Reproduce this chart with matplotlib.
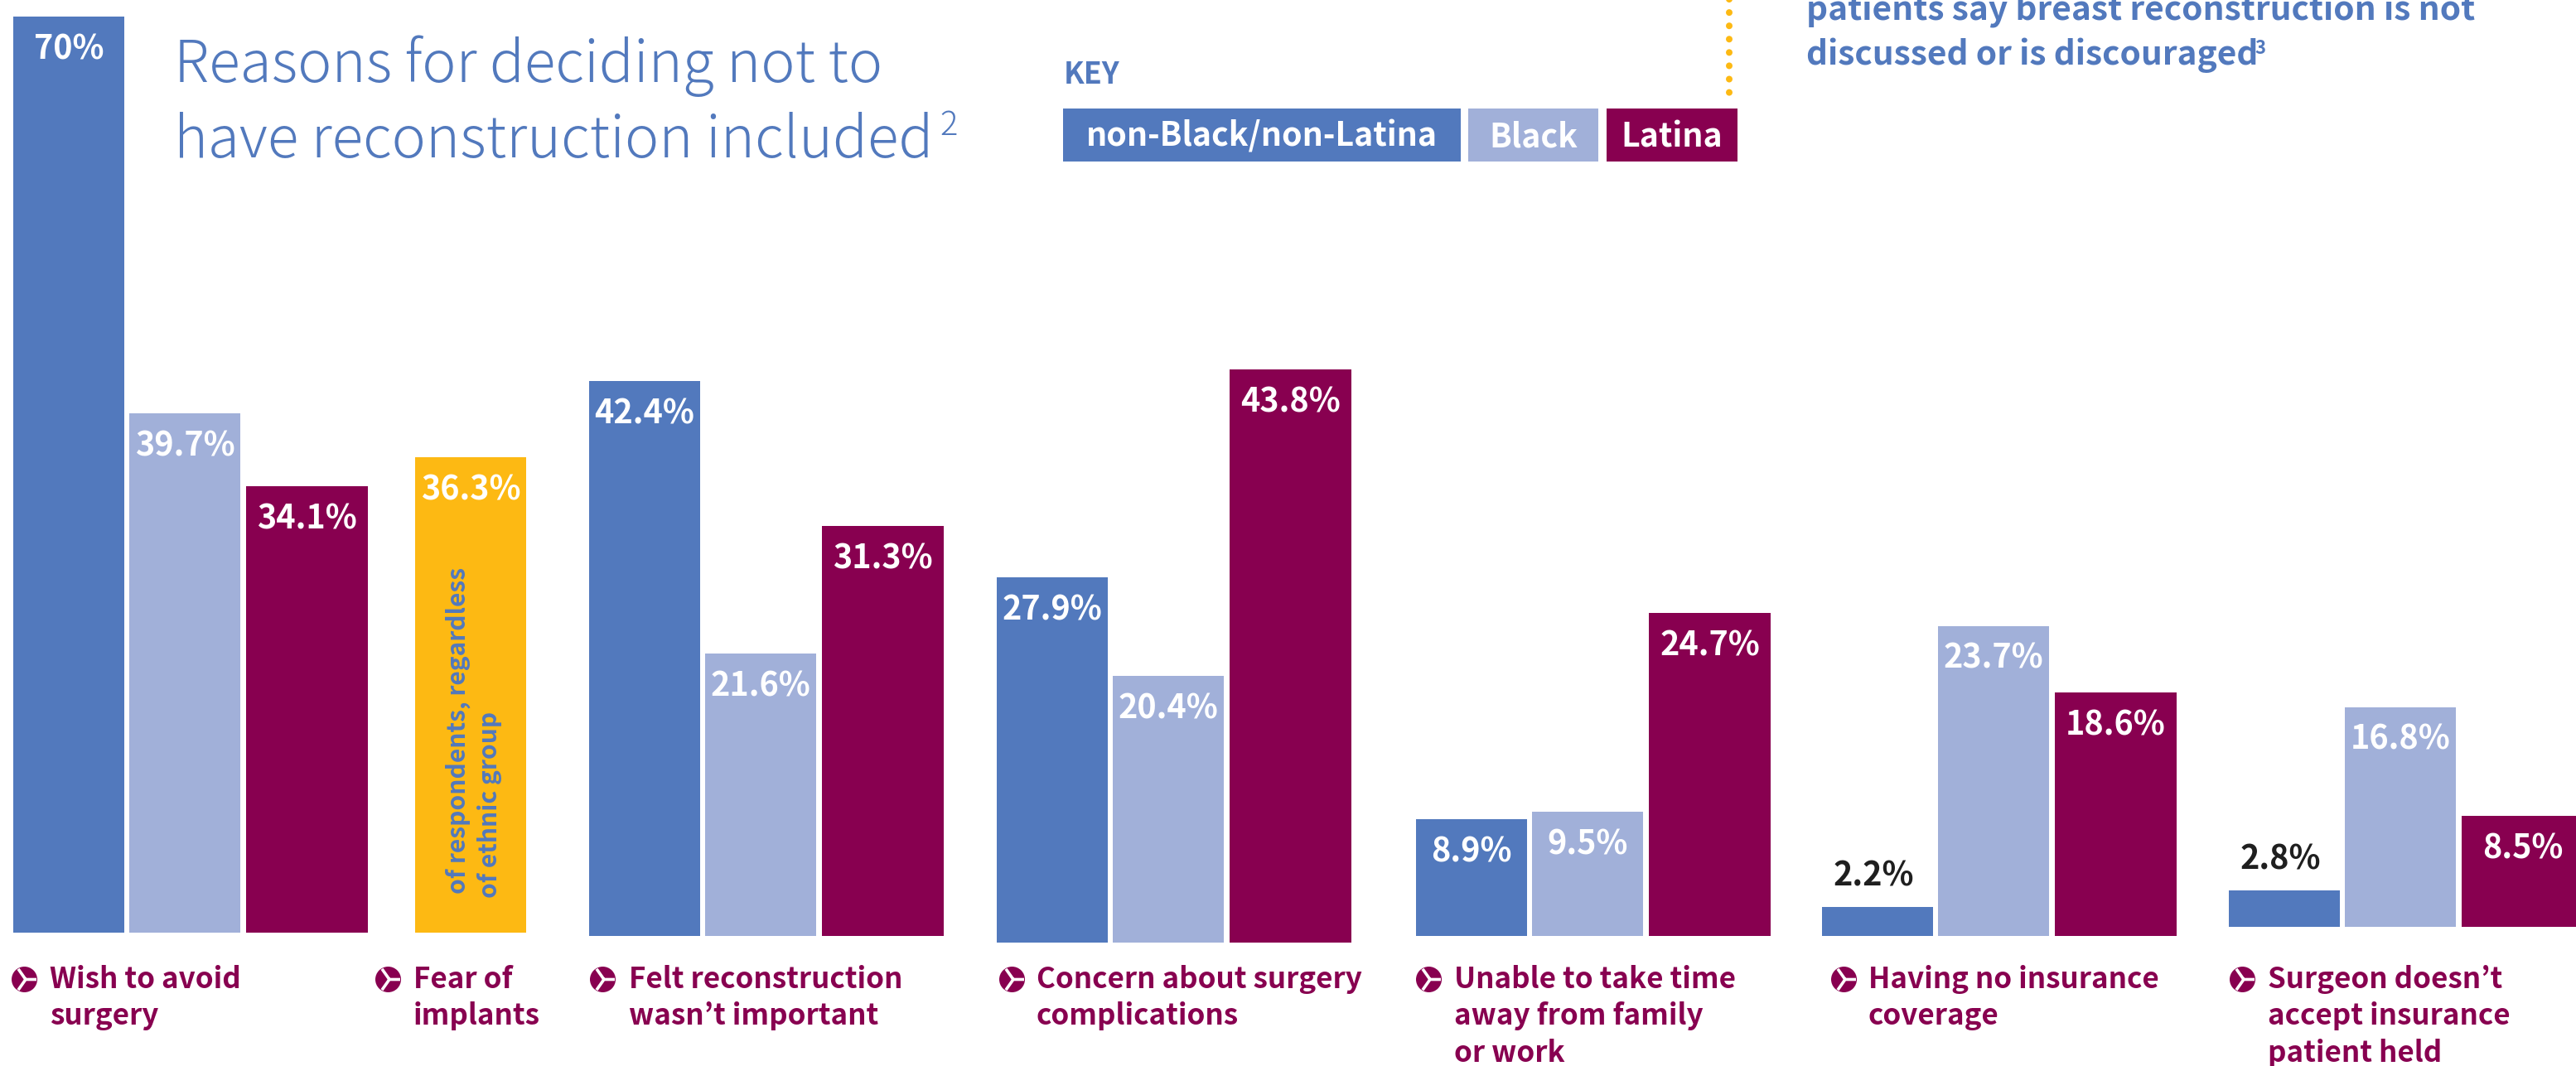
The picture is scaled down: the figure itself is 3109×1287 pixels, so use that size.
import matplotlib
matplotlib.use("Agg")
import matplotlib.pyplot as plt
from matplotlib.patches import Rectangle
from matplotlib.path import Path

# Survey results, percent of respondents in each group
categories = [
    "Wish to avoid\nsurgery",
    "Fear of\nimplants",
    "Felt reconstruction\nwasn\u2019t important",
    "Concern about surgery\ncomplications",
    "Unable to take time\naway from family\nor work",
    "Having no insurance\ncoverage",
    "Surgeon doesn\u2019t\naccept insurance\npatient held",
]
non_black_non_latina = [70, None, 42.4, 27.9, 8.9, 2.2, 2.8]
black = [39.7, None, 21.6, 20.4, 9.5, 23.7, 16.8]
latina = [34.1, None, 31.3, 43.8, 24.7, 18.6, 8.5]
all_respondents = [None, 36.3, None, None, None, None, None]
series_names = ["non-Black/non-Latina", "Black", "Latina"]

BLUE = "#5279BD"
LIGHT = "#A1B0D9"
PURPLE = "#880050"
GOLD = "#FDB913"
INK = "#1F1F1F"

W, H = 3109, 1287
PX_PER_PCT = 15.8

plt.rcParams["font.family"] = ["Noto Sans CJK JP", "DejaVu Sans"]
fig = plt.figure(figsize=(W / 100, H / 100), dpi=100, facecolor="white")

# Page-level layer measured in pixels, for headings, key and captions
page = fig.add_axes([0, 0, 1, 1])
page.set_xlim(0, W)
page.set_ylim(H, 0)
page.axis("off")
page.set_zorder(5)


def pt(px):
    return px * 0.72


# Each group gets its own small axes: left edge and baseline in pixels
group_left = [16, 501, 711, 1203, 1709, 2199, 2690]
group_base = [1126, 1126, 1130, 1138, 1130, 1130, 1119]
caption_x = [60, 499, 759, 1251, 1755, 2255, 2737]
bullet_x = [29, 468, 727, 1221, 1724, 2225, 2706]
slot_left = [0, 140, 281]
slot_width = [134, 134, 147]
Y_MAX = 72
VALUE_PX = 39.5
CAPTION_PX = 35


def group_axes(i):
    ax = fig.add_axes([
        group_left[i] / W,
        1 - group_base[i] / H,
        430 / W,
        Y_MAX * PX_PER_PCT / H,
    ])
    ax.set_xlim(0, 430)
    ax.set_ylim(0, Y_MAX)
    ax.axis("off")
    ax.patch.set_alpha(0)
    return ax


def label_bar(ax, x, v):
    text = f"{v}%"
    if v < 5:
        ax.text(x - 5, v + 1.6, text, ha="center", va="baseline", color=INK,
                fontsize=pt(VALUE_PX), fontweight="bold", clip_on=False)
    else:
        ax.text(x, v - 3.25, text, ha="center", va="baseline", color="white",
                fontsize=pt(VALUE_PX), fontweight="bold", clip_on=False)


for i in range(len(categories)):
    ax = group_axes(i)
    if all_respondents[i] is not None:
        v = all_respondents[i]
        ax.bar(0, v, width=134, align="edge", color=GOLD)
        label_bar(ax, 67, v)
    else:
        vals = [non_black_non_latina[i], black[i], latina[i]]
        for left, wid, v, c in zip(slot_left, slot_width, vals, [BLUE, LIGHT, PURPLE]):
            ax.bar(left, v, width=wid, align="edge", color=c)
            label_bar(ax, left + wid / 2, v)

# Rotated note inside the gold bar
for x, y, line in [(562, 1079, "of respondents, regardless"), (600, 1084, "of ethnic group")]:
    page.text(x, y, line, rotation=90, rotation_mode="anchor", ha="left",
              va="baseline", color=BLUE, fontsize=pt(30), fontweight="bold")

# Captions with chevron bullets
fork = Path([(-0.62, -1.05), (0.12, 0.0), (1.2, 0.0), (0.12, 0.0), (-0.62, 1.05)],
            [Path.MOVETO, Path.LINETO, Path.LINETO, Path.MOVETO, Path.LINETO])
for i, cap in enumerate(categories):
    page.plot(bullet_x[i], 1182, "o", ms=pt(31), color=PURPLE, mew=0)
    page.plot(bullet_x[i], 1182, marker=fork, ms=pt(29), mfc="none",
              mec="white", mew=2.6, clip_on=False)
    for k, line in enumerate(cap.split("\n")):
        page.text(caption_x[i], 1193 + 44.5 * k, line, ha="left", va="baseline",
                  color=PURPLE, fontsize=pt(CAPTION_PX), fontweight="bold")

# Heading
page.text(210, 99, "Reasons for deciding not to", color=BLUE, fontsize=pt(69.5),
          fontweight="light", ha="left", va="baseline")
page.text(210, 190, "have reconstruction included", color=BLUE, fontsize=pt(69.5),
          fontweight="light", ha="left", va="baseline")
page.text(1134, 163, "2", color=BLUE, fontsize=pt(40), fontweight="light",
          ha="left", va="baseline")

# Key
page.text(1284, 101, "KEY", color=BLUE, fontsize=pt(36), fontweight="bold",
          ha="left", va="baseline")
key_left = [1283, 1772, 1939]
key_right = [1763, 1929, 2097]
for l, r, name, c in zip(key_left, key_right, series_names, [BLUE, LIGHT, PURPLE]):
    page.add_patch(Rectangle((l, 131), r - l, 64, color=c, lw=0))
    page.text((l + r) / 2, 177, name, color="white", ha="center", va="baseline",
              fontsize=pt(39.3), fontweight="bold")

# Dotted connector and the callout it leads to
page.plot([2087, 2087], [-4, 116], color=GOLD, lw=pt(8),
          linestyle=(0, (0.01, 2.0)), dash_capstyle="round")
page.text(2180, 24, "patients say breast reconstruction is not", color=BLUE,
          fontsize=pt(40.6), fontweight="bold", ha="left", va="baseline")
page.text(2180, 78, "discussed or is discouraged", color=BLUE,
          fontsize=pt(40.6), fontweight="bold", ha="left", va="baseline")
page.text(2721, 65, "3", color=BLUE, fontsize=pt(22), fontweight="bold",
          ha="left", va="baseline")

fig.savefig("out.png", dpi=100, facecolor="white")
